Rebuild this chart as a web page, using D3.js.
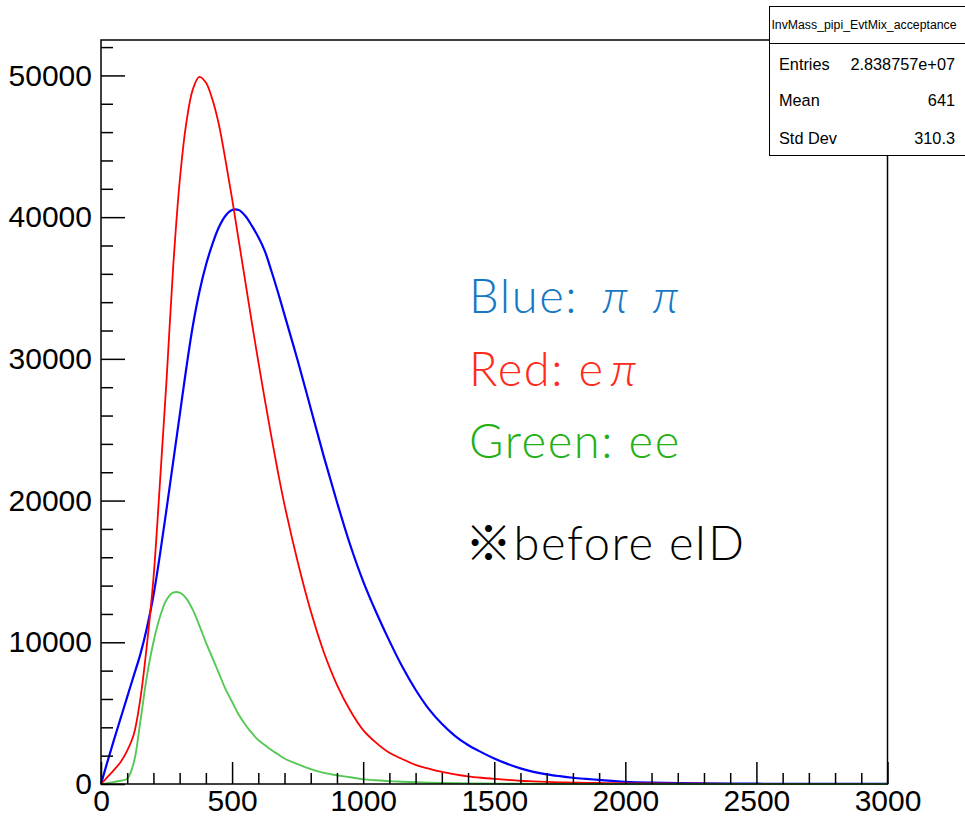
<!DOCTYPE html>
<html>
<head>
<meta charset="utf-8">
<script src="https://cdn.jsdelivr.net/npm/d3@7"></script>
<style>
  html, body { margin: 0; padding: 0; background: #fff; }
  svg { display: block; }
</style>
</head>
<body>
<script>
// ---- data ----
const massPoints = [0,25,50,75,100,125,150,175,200,225,250,275,300,325,350,375,400,425,450,475,500,525,550,575,600,625,650,675,700,
  750,800,850,900,950,1000,1050,1100,1150,1200,1250,1300,1350,1400,1450,1500,1550,1600,1650,1700,1750,1800,1850,1900,1950,2000,
  2100,2200,2300,2400,2500,2600,2700,2800,2900,3000];

const bluePiPi = [0,1600,3150,4650,6150,7650,9150,11000,13300,16200,19400,22700,26000,29300,32300,34700,36600,38100,39300,40100,40500,40500,40100,39400,38600,37600,36200,34700,33100,
  29900,26500,23100,19900,16900,14300,12100,10100,8250,6650,5300,4250,3400,2750,2250,1800,1420,1100,860,680,550,440,360,290,220,160,
  100,65,45,30,20,14,10,7,5,3];

const redEPi = [0,500,1000,1550,2350,3500,6000,9800,14500,21300,28500,36400,42500,46600,49000,49900,49500,48300,46500,44000,41300,38400,35500,32600,29800,27100,24500,22000,19700,
  15700,12200,9300,7000,5200,3800,2900,2200,1750,1350,1080,850,680,540,440,360,290,230,190,150,120,100,85,70,60,50,
  35,25,18,12,8,6,4,3,2,1];

const greenEE = [0,60,150,230,380,1500,4400,7600,10000,11800,13000,13500,13500,13100,12300,11200,10000,8900,7800,6700,5800,4900,4200,3600,3100,2750,2400,2100,1800,
  1400,1050,780,620,480,330,260,200,160,120,90,70,55,45,35,28,22,18,14,11,9,7,5,4,3,2,
  1,1,0,0,0,0,0,0,0,0];

const xTickValues = [0,500,1000,1500,2000,2500,3000];
const yTickValues = [0,10000,20000,30000,40000,50000];

const statsTitle = "InvMass_pipi_EvtMix_acceptance";
const statsRows = [["Entries","2.838757e+07"],["Mean","641"],["Std Dev","310.3"]];

// ---- layout ----
const W = 965, H = 819;
const frame = {left: 101, right: 887.5, top: 40, bottom: 784};

const svg = d3.select("body").append("svg").attr("width", W).attr("height", H);
svg.append("rect").attr("width", W).attr("height", H).attr("fill", "#fff");

const x = d3.scaleLinear().domain([0, 3000]).range([frame.left, frame.right]);
const y = d3.scaleLinear().domain([0, 52500]).range([frame.bottom, frame.top]);

// curves
const series = [
  {vals: redEPi, color: "#ff0000", w: 1.8},
  {vals: bluePiPi, color: "#0000ff", w: 2.2},
  {vals: greenEE, color: "#55c855", w: 1.9}
];
const line = d3.line().x(d => x(d[0])).y(d => y(Math.max(0, d[1]))).curve(d3.curveCatmullRom.alpha(0.5));
[series[1], series[0], series[2]].forEach(s => {
  svg.append("path")
    .datum(massPoints.map((m, i) => [m, s.vals[i]]))
    .attr("fill", "none")
    .attr("stroke", s.color)
    .attr("stroke-width", s.w)
    .attr("stroke-linejoin", "round")
    .attr("d", line);
});

// frame
svg.append("rect")
  .attr("x", frame.left).attr("y", frame.top)
  .attr("width", frame.right - frame.left).attr("height", frame.bottom - frame.top)
  .attr("fill", "none").attr("stroke", "#000").attr("stroke-width", 1.5);

const axisFont = "'Liberation Sans', Arial, Helvetica, sans-serif";

// x axis major
svg.append("g").attr("transform", `translate(0,${frame.bottom})`)
  .call(d3.axisBottom(x).tickValues(xTickValues).tickSize(-22).tickSizeOuter(0).tickPadding(6).tickFormat(d3.format("d")));
// x minor
const xMinor = d3.range(0, 3001, 100).filter(v => v % 500 !== 0);
svg.append("g").attr("transform", `translate(0,${frame.bottom})`)
  .call(d3.axisBottom(x).tickValues(xMinor).tickSize(-11).tickSizeOuter(0).tickFormat(""));

// y axis major
svg.append("g").attr("transform", `translate(${frame.left},0)`)
  .call(d3.axisLeft(y).tickValues(yTickValues).tickSize(-24).tickSizeOuter(0).tickPadding(9).tickFormat(d3.format("d")));
const yMinor = d3.range(0, 52001, 2000).filter(v => v % 10000 !== 0);
svg.append("g").attr("transform", `translate(${frame.left},0)`)
  .call(d3.axisLeft(y).tickValues(yMinor).tickSize(-12).tickSizeOuter(0).tickFormat(""));

svg.selectAll(".domain").remove();
svg.selectAll(".tick line").attr("stroke", "#000").attr("stroke-width", 1.5);
svg.selectAll(".tick text").attr("font-family", axisFont).attr("font-size", 30).attr("fill", "#000");

// annotation text
const annFont = "Lato, 'Noto Sans CJK JP', sans-serif";
const ann = svg.append("g").attr("font-family", annFont).attr("font-weight", 300)
  .attr("font-size", 47).attr("letter-spacing", 1.6);
const t1 = ann.append("text").attr("x", 469).attr("y", 313).attr("fill", "#1677c4");
t1.append("tspan").text("Blue:");
t1.append("tspan").attr("dx", 24).attr("font-style", "italic").text("π");
t1.append("tspan").attr("dx", 23).attr("font-style", "italic").text("π");
const t2 = ann.append("text").attr("x", 469).attr("y", 386).attr("fill", "#ff2a1a");
t2.append("tspan").text("Red: e");
t2.append("tspan").attr("dx", 6).attr("font-style", "italic").text("π");
ann.append("text").attr("x", 469).attr("y", 458).attr("fill", "#22b014").text("Green: ee");
const t4 = ann.append("text").attr("x", 465).attr("y", 560).attr("fill", "#000");
t4.append("tspan").attr("font-family", "'Noto Sans CJK JP', sans-serif").attr("font-weight", 300).text("※");
t4.append("tspan").text("before eID");

// stats box
const box = {x: 769.5, y: 6.5, w: 200, h: 149, sep: 43.5};
const sb = svg.append("g").attr("font-family", axisFont).attr("fill", "#000");
sb.append("rect").attr("x", box.x).attr("y", box.y).attr("width", box.w).attr("height", box.h)
  .attr("fill", "#fff").attr("stroke", "#000").attr("stroke-width", 1);
sb.append("line").attr("x1", box.x).attr("x2", box.x + box.w).attr("y1", box.sep).attr("y2", box.sep)
  .attr("stroke", "#000").attr("stroke-width", 1);
sb.append("text").attr("x", 864).attr("y", 29).attr("text-anchor", "middle").attr("font-size", 12.3).text(statsTitle);
const rowY = [70, 106, 144];
statsRows.forEach((r, i) => {
  sb.append("text").attr("x", 779).attr("y", rowY[i]).attr("font-size", 16.3).text(r[0]);
  sb.append("text").attr("x", 955).attr("y", rowY[i]).attr("font-size", 16.3).attr("text-anchor", "end").text(r[1]);
});
</script>
</body>
</html>
